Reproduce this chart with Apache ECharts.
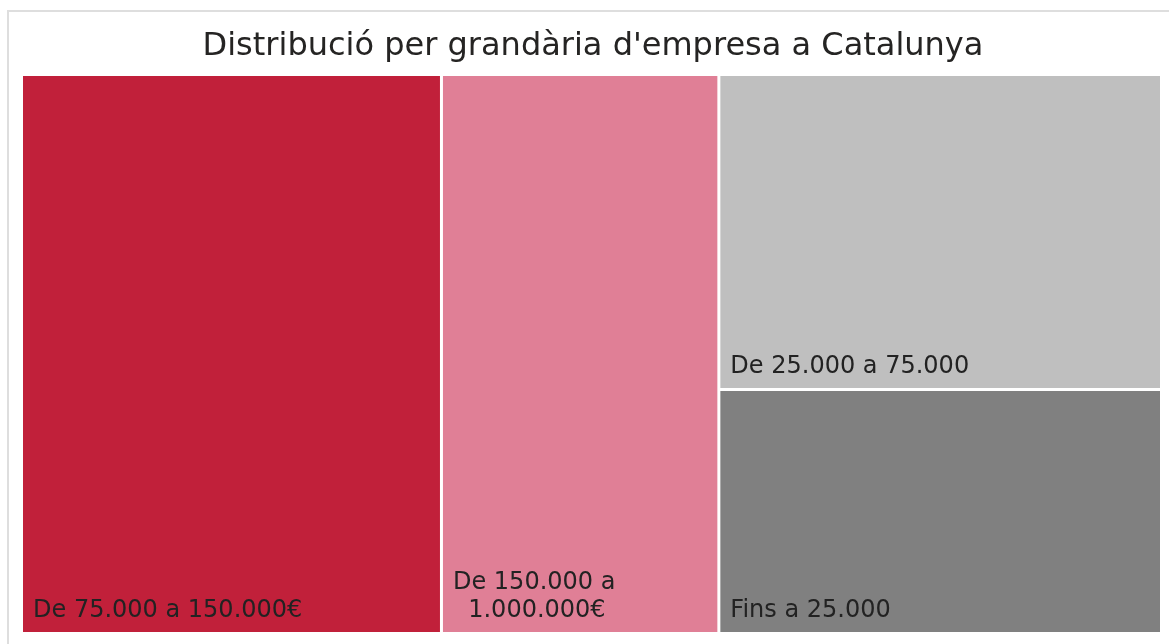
<!DOCTYPE html>
<html>
<head>
<meta charset="utf-8">
<script src="https://cdn.jsdelivr.net/npm/echarts@6/dist/echarts.min.js"></script>
<style>
html,body{margin:0;padding:0;background:#fff;}
#c{width:1169px;height:644px;}
</style>
</head>
<body>
<div id="c"></div>
<script>
const titleText = "Distribució per grandària d'empresa a Catalunya";
const categories = ["De 75.000 a 150.000€", "De 150.000 a 1.000.000€", "De 25.000 a 75.000", "Fins a 25.000"];
const values = [36.85, 24.34, 21.89, 16.95];
const colors = ["#C1203A", "#E07F96", "#BFBFBF", "#808080"];

const FONT = '"DejaVu Sans", Verdana, sans-serif';
const LABEL_SIZE = 24;

// wrap long labels onto two lines, roughly centring the second line under the first
const mctx = document.createElement('canvas').getContext('2d');
mctx.font = LABEL_SIZE + 'px ' + FONT;
function wrapLabel(name) {
  if (name.length <= 20) return name;
  const idx = name.lastIndexOf(' ', Math.ceil(name.length / 2) + 2);
  const l1 = name.slice(0, idx), l2 = name.slice(idx + 1);
  const sp = mctx.measureText(' ').width;
  const pad = Math.round((mctx.measureText(l1).width - mctx.measureText(l2).width) / 2 / sp);
  return l1 + '\n' + ' '.repeat(Math.max(pad, 0)) + l2;
}

const chart = echarts.init(document.getElementById('c'), null, {renderer: 'canvas'});
const data = categories.map((name, i) => ({
  name: name,
  value: values[i],
  itemStyle: {color: colors[i]}
}));

chart.setOption({
  animation: false,
  title: {
    text: titleText,
    left: 588,
    top: 26,
    textAlign: 'center',
    textStyle: {fontFamily: FONT, fontSize: 32, fontWeight: 'normal', color: '#252423'}
  },
  graphic: [{
    type: 'rect',
    shape: {x: 8, y: 11, width: 1300, height: 800},
    style: {fill: 'none', stroke: '#dedede', lineWidth: 2},
    silent: true
  }],
  series: [{
    type: 'treemap',
    left: 23,
    top: 76,
    width: 1137,
    height: 556,
    squareRatio: 0.8,
    roam: false,
    nodeClick: false,
    breadcrumb: {show: false},
    sort: 'desc',
    label: {
      show: true,
      position: 'insideBottomLeft',
      distance: 0,
      padding: [0, 0, 7, 10],
      fontFamily: FONT,
      fontSize: LABEL_SIZE,
      color: '#222222',
      overflow: 'none',
      lineHeight: 28,
      formatter: p => wrapLabel(p.name)
    },
    itemStyle: {borderWidth: 0, gapWidth: 3, borderColor: '#fff'},
    levels: [
      {itemStyle: {borderWidth: 0, gapWidth: 3}},
      {itemStyle: {borderWidth: 0}}
    ],
    data: data
  }]
});
</script>
</body>
</html>
